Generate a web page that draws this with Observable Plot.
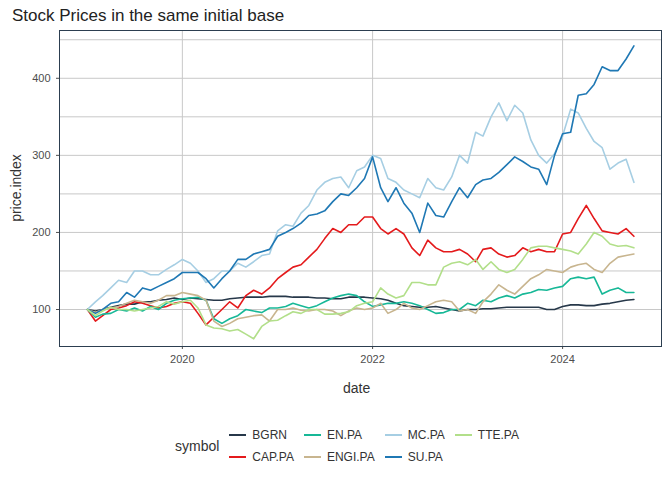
<!DOCTYPE html>
<html>
<head>
<meta charset="utf-8">
<script src="https://cdn.jsdelivr.net/npm/d3@7"></script>
<script src="https://cdn.jsdelivr.net/npm/@observablehq/plot@0.6"></script>
<style>
  body { margin: 0; background: white; font-family: "Liberation Sans", Arial, sans-serif; }
  #title { position: absolute; left: 12px; top: 6px; font-size: 17px; color: #222; }
  #chart { position: absolute; left: 0; top: 0; }
  #xlab { position: absolute; left: 343px; top: 380px; font-size: 14px; color: #333; }
  #ylab { position: absolute; left: -18px; top: 180px; font-size: 14px; color: #333; transform: rotate(-90deg); }
  #legend { position: absolute; left: 175px; top: 424px; font-size: 12px; color: #333; display: flex; align-items: center; }
  .grid { display: grid; grid-template-rows: 22px 22px; grid-auto-flow: column; column-gap: 10px; margin-left: 10px; }
  .item { display: flex; align-items: center; }
  .sw { width: 17px; height: 2px; margin-right: 6px; }
</style>
</head>
<body>
<div id="chart"></div>
<div id="title">Stock Prices in the same initial base</div>
<div id="xlab">date</div>
<div id="ylab">price.index</div>
<div id="legend"><span style="font-size:14px">symbol</span><div class="grid" id="lg"></div></div>
<script>
const symbols = ["BGRN", "CAP.PA", "EN.PA", "ENGI.PA", "MC.PA", "SU.PA", "TTE.PA"];
const colors = ["#27384a", "#e41a1c", "#17b897", "#c8b58f", "#a6cee3", "#1f78b4", "#b2df8a"];

// monthly values, Jan 2019 .. Oct 2024
const BGRN = [100,98,100,103,105,107,107,110,110,112,113,115, 113,115,114,113,112,112,114,115,116,116,116,117,
  117,117,116,116,116,115,115,114,114,116,116,116, 115,114,112,108,105,104,103,103,104,102,100,98,
  100,100,101,101,102,103,103,103,103,103,100,100, 104,106,106,105,105,107,108,110,112,113];
const CAP = [100,85,92,100,102,105,110,108,105,102,104,108, 110,108,95,80,90,100,110,102,118,125,120,128,
  140,148,155,158,168,178,192,205,200,210,210,220, 220,205,198,205,198,180,170,190,180,175,175,178,
  172,162,178,180,172,168,170,180,175,178,175,175, 198,200,218,235,218,202,200,198,205,195];
const EN = [100,90,94,95,100,98,102,98,104,100,108,112, 114,115,116,112,88,82,88,92,100,98,96,102,
  102,104,108,105,102,105,110,115,118,120,118,110, 104,106,108,108,110,108,105,100,95,96,100,100,
  108,105,112,110,115,118,115,120,122,126,125,128, 130,140,142,140,142,120,125,128,122,122];
const ENGI = [100,96,100,102,104,108,112,110,108,112,118,118, 122,120,118,112,85,78,82,88,90,92,93,85,
  100,100,102,99,98,100,100,98,92,98,102,100, 102,108,95,100,108,102,100,105,110,112,110,98,
  100,95,110,120,132,125,120,130,140,145,152,150, 148,155,158,160,152,148,160,168,170,172];
const MC = [100,110,118,128,138,135,150,150,145,145,152,158, 165,160,150,135,140,150,150,160,155,162,170,172,
  202,210,208,225,235,255,265,270,272,258,280,285, 300,296,270,265,255,250,245,270,258,255,272,300,
  290,330,325,350,368,345,365,355,320,300,290,302, 325,360,355,335,318,310,282,290,295,265];
const SU = [100,95,100,108,110,122,116,128,125,130,135,140, 148,148,148,140,128,140,150,165,165,172,175,178,
  195,200,205,212,222,224,228,240,250,248,258,270, 298,258,240,258,238,225,200,238,222,220,240,258,
  245,262,268,270,278,288,298,292,285,282,262,300, 328,330,378,380,392,415,410,410,425,442];
const TTE = [100,92,98,103,100,100,98,100,102,104,110,107, 110,112,102,80,76,75,72,74,68,62,78,85,
  86,92,97,95,100,100,94,94,95,97,105,108, 110,128,120,115,118,135,135,132,132,155,160,162,
  158,165,152,162,152,148,152,165,180,182,182,180, 178,176,172,185,200,195,185,182,183,180];
const series = [BGRN, CAP, EN, ENGI, MC, SU, TTE];

const data = [];
series.forEach((vals, s) => vals.forEach((v, i) =>
  data.push({symbol: symbols[s], date: new Date(2019, i, 1), price: v})));

const chart = Plot.plot({
  width: 672,
  height: 396,
  marginTop: 30,
  marginLeft: 59,
  marginRight: 11,
  marginBottom: 50,
  style: {fontFamily: "Liberation Sans, Arial, sans-serif", fontSize: "11px", color: "#4d4d4d"},
  x: {
    type: "utc",
    domain: [new Date(2018, 8, 16), new Date(2025, 0, 15)],
    ticks: [new Date(2020, 0, 1), new Date(2022, 0, 1), new Date(2024, 0, 1)],
    tickFormat: d3.timeFormat("%Y"),
    tickSize: 3,
    label: null
  },
  y: {
    domain: [52, 462],
    ticks: [100, 200, 300, 400],
    tickSize: 3,
    label: null
  },
  color: {domain: symbols, range: colors},
  marks: [
    Plot.gridY(d3.range(50, 461, 50).filter(d => d > 52), {stroke: "#c8c8c8", strokeOpacity: 1}),
    Plot.gridX([new Date(2020, 0, 1), new Date(2022, 0, 1), new Date(2024, 0, 1)], {stroke: "#c8c8c8", strokeOpacity: 1}),
    Plot.line(data, {x: "date", y: "price", z: "symbol", stroke: "symbol", strokeWidth: 1.6}),
    Plot.frame({stroke: "#2c3e50", strokeWidth: 1})
  ]
});
document.getElementById("chart").append(chart);

const lg = document.getElementById("lg");
symbols.forEach((s, i) => {
  const d = document.createElement("div");
  d.className = "item";
  d.innerHTML = `<span class="sw" style="background:${colors[i]}"></span><span>${s}</span>`;
  lg.append(d);
});
</script>
</body>
</html>
